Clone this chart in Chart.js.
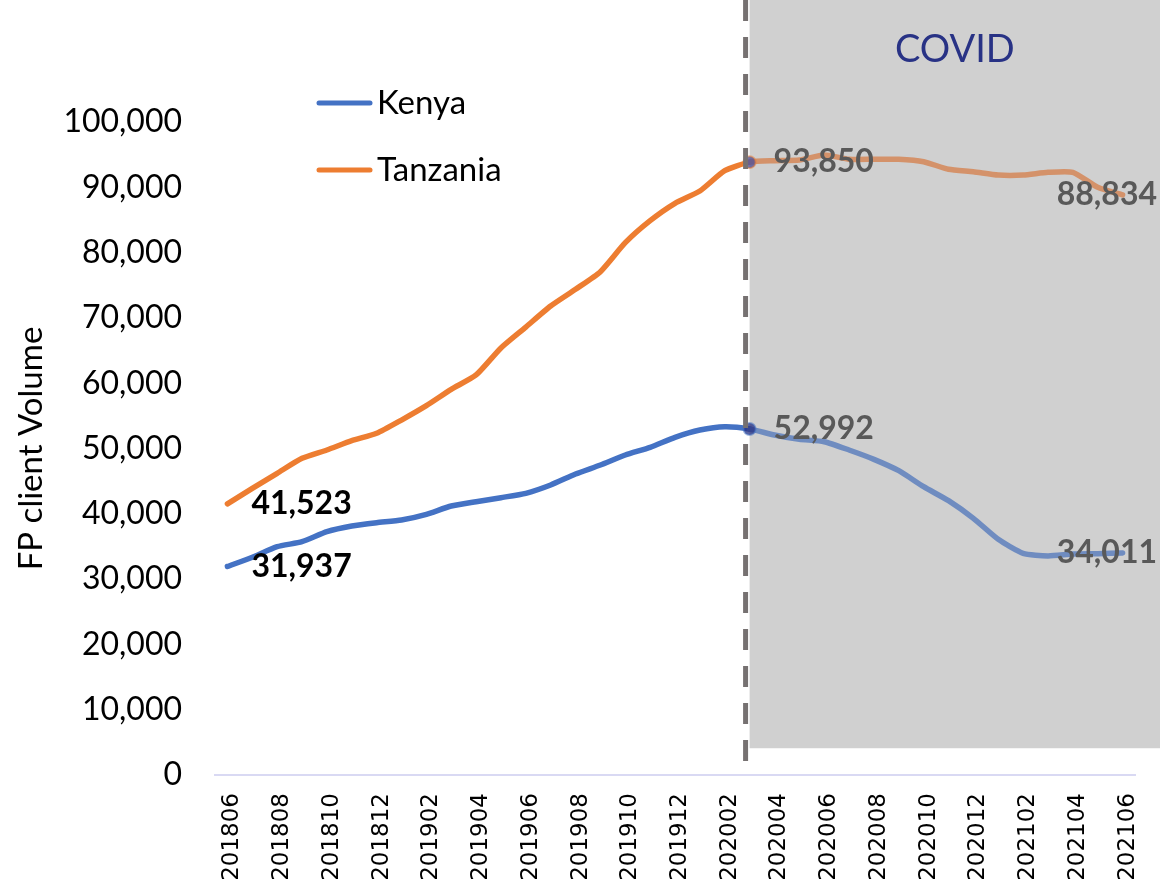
<!DOCTYPE html>
<html>
<head>
    <title>FP client Volume</title>
    <script src="https://cdn.jsdelivr.net/npm/chart.js@4/dist/chart.umd.min.js"></script>
    <style>
        body { margin: 0; background: #fff; }
        #wrap { width: 1160px; height: 886px; }
    </style>
</head>
<body>
    <div id="wrap"><canvas id="myChart"></canvas></div>

    <script>
        // monthly periods, Jun 2018 - Jun 2021
        var months = ['201806', '201807', '201808', '201809', '201810', '201811', '201812',
            '201901', '201902', '201903', '201904', '201905', '201906', '201907', '201908',
            '201909', '201910', '201911', '201912', '202001', '202002', '202003', '202004',
            '202005', '202006', '202007', '202008', '202009', '202010', '202011', '202012',
            '202101', '202102', '202103', '202104', '202105', '202106'];

        var kenya = [31937, 33340, 34960, 35730, 37260, 38130, 38640, 39050, 39920, 41190,
            41850, 42470, 43140, 44410, 46090, 47470, 49000, 50180, 51710, 52830, 53340,
            52992, 52070, 51410, 51040, 49770, 48340, 46600, 44150, 42010, 39310, 36090,
            33950, 33540, 33840, 33900, 34011];

        var tanzania = [41523, 43900, 46200, 48500, 49770, 51200, 52330, 54360, 56560, 59060,
            61260, 65400, 68600, 71820, 74380, 77080, 81520, 84890, 87550, 89430, 92540,
            93850, 94070, 94180, 94950, 94290, 94290, 94290, 93920, 92760, 92390, 91880,
            91880, 92290, 92290, 90000, 88834];

        var yTicks = [0, 10000, 20000, 30000, 40000, 50000, 60000, 70000, 80000, 90000, 100000];

        var covidStart = 21;        // index of 202003
        var covidBoxBottom = 4100;  // grey box ends a little above the axis

        var kenyaColor = '#4472C4';
        var kenyaCovidColor = '#6f8cc0';
        var tzColor = '#ED7D31';
        var tzCovidColor = '#d4926a';

        function fmt(v) {
            return v.toLocaleString('en-US');
        }

        // labels on first, covid-start and last points
        var pointLabels = [
            { ds: 0, i: 0, color: '#000000', place: 'right' },
            { ds: 1, i: 0, color: '#000000', place: 'right' },
            { ds: 0, i: covidStart, color: '#595959', place: 'right' },
            { ds: 1, i: covidStart, color: '#595959', place: 'right' },
            { ds: 0, i: months.length - 1, color: '#595959', place: 'center' },
            { ds: 1, i: months.length - 1, color: '#595959', place: 'center' }
        ];

        var covidPlugin = {
            id: 'covid',
            beforeDatasetsDraw: function(chart) {
                var ctx = chart.ctx;
                var x = chart.scales.x, y = chart.scales.y;
                var left = x.getPixelForValue(covidStart);
                ctx.save();
                ctx.fillStyle = '#d0d0d0';
                ctx.fillRect(left, 0, chart.width - left, y.getPixelForValue(covidBoxBottom));
                ctx.fillStyle = '#283285';
                ctx.font = '38px Lato';
                ctx.textAlign = 'center';
                ctx.textBaseline = 'middle';
                ctx.fillText('COVID', (left + chart.width) / 2, 50);
                ctx.restore();
            },
            afterDatasetsDraw: function(chart) {
                var ctx = chart.ctx;
                var x = chart.scales.x, y = chart.scales.y;
                var lx = x.getPixelForValue(covidStart) - 4;

                // dashed divider
                ctx.save();
                ctx.strokeStyle = '#767171';
                ctx.lineWidth = 5;
                ctx.setLineDash([21, 16]);
                ctx.beginPath();
                ctx.moveTo(lx, 0);
                ctx.lineTo(lx, y.getPixelForValue(0) - 5);
                ctx.stroke();
                ctx.restore();

                // data labels
                ctx.save();
                ctx.font = 'bold 32px Lato';
                ctx.textBaseline = 'middle';
                pointLabels.forEach(function(l) {
                    var pt = chart.getDatasetMeta(l.ds).data[l.i];
                    var txt = fmt(chart.data.datasets[l.ds].data[l.i]);
                    var w = ctx.measureText(txt).width;
                    ctx.fillStyle = l.color;
                    if (l.place === 'right') {
                        ctx.textAlign = 'left';
                        ctx.fillText(txt, pt.x + 24, pt.y);
                    } else {
                        ctx.textAlign = 'right';
                        ctx.fillText(txt, Math.min(pt.x + w / 2, chart.width - 3), pt.y);
                    }
                });
                ctx.restore();
            },
            afterDraw: function(chart) {
                // legend inside the plot, top left
                var ctx = chart.ctx;
                ctx.save();
                ctx.font = '33px Lato';
                ctx.textBaseline = 'middle';
                ctx.textAlign = 'left';
                chart.data.datasets.forEach(function(ds, k) {
                    var ly = 103 + k * 67;
                    ctx.strokeStyle = ds.borderColor;
                    ctx.lineWidth = 5;
                    ctx.lineCap = 'round';
                    ctx.beginPath();
                    ctx.moveTo(319, ly);
                    ctx.lineTo(370, ly);
                    ctx.stroke();
                    ctx.fillStyle = '#000';
                    ctx.fillText(ds.label, 377, ly);
                });
                ctx.restore();
            }
        };

        function segColor(normal, muted) {
            return function(c) {
                return c.p0DataIndex >= covidStart ? muted : normal;
            };
        }

        var data = {
            labels: months,
            datasets: [{
                label: 'Kenya',
                data: kenya,
                borderColor: kenyaColor,
                segment: { borderColor: segColor(kenyaColor, kenyaCovidColor) },
                pointBackgroundColor: 'rgba(35, 45, 130, 0.75)',
                pointBorderColor: 'rgba(68, 114, 196, 0.5)'
            }, {
                label: 'Tanzania',
                data: tanzania,
                borderColor: tzColor,
                segment: { borderColor: segColor(tzColor, tzCovidColor) },
                pointBackgroundColor: 'rgba(80, 80, 150, 0.8)',
                pointBorderColor: 'rgba(237, 125, 49, 0.5)'
            }]
        };

        var config = {
            type: 'line',
            data: data,
            plugins: [covidPlugin],
            options: {
                responsive: true,
                maintainAspectRatio: false,
                animation: false,
                layout: { padding: { top: 122, right: 25, left: 0, bottom: 0 } },
                elements: {
                    line: { borderWidth: 5.5, tension: 0.2, borderCapStyle: 'round', borderJoinStyle: 'round' },
                    point: {
                        radius: function(c) { return c.dataIndex === covidStart ? 6 : 0; },
                        borderWidth: 2,
                        hoverRadius: 0
                    }
                },
                plugins: {
                    legend: { display: false },
                    tooltip: { enabled: false }
                },
                scales: {
                    x: {
                        type: 'category',
                        offset: true,
                        grid: { display: false, drawTicks: false },
                        border: { display: true, color: '#d9d9f3', width: 2 },
                        ticks: {
                            autoSkip: false,
                            minRotation: 90,
                            maxRotation: 90,
                            padding: 18,
                            labelOffset: 5,
                            color: '#000',
                            font: { family: 'DejaVu Sans', size: 23 },
                            callback: function(val, i) {
                                return i % 2 === 0 ? this.getLabelForValue(val) : '';
                            }
                        },
                        afterFit: function(s) {
                            s.height = 111;
                            s.paddingLeft = 0;
                            s.paddingRight = 0;
                        }
                    },
                    y: {
                        min: 0,
                        max: 100000,
                        grid: { display: false, drawTicks: false },
                        border: { display: false },
                        afterBuildTicks: function(s) {
                            s.ticks = yTicks.map(function(v) { return { value: v }; });
                        },
                        ticks: {
                            padding: 33,
                            color: '#000',
                            font: { family: 'Lato', size: 32 },
                            callback: function(v) { return fmt(v); }
                        },
                        title: {
                            display: true,
                            text: 'FP client Volume',
                            color: '#000',
                            font: { family: 'Lato', size: 33 },
                            padding: { top: 12, bottom: 0 }
                        },
                        afterFit: function(s) { s.width = 215; }
                    }
                }
            }
        };

        var ctx = document.getElementById('myChart').getContext('2d');
        var chart = new Chart(ctx, config);
    </script>
</body>
</html>
